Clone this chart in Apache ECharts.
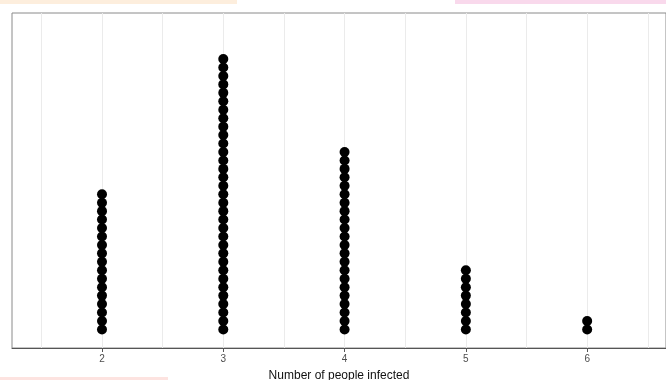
<!DOCTYPE html>
<html>
<head>
<meta charset="utf-8">
<script src="https://cdn.jsdelivr.net/npm/echarts@6/dist/echarts.min.js"></script>
<style>
html, body { margin: 0; padding: 0; background: #fff; }
#main { width: 666px; height: 380px; }
</style>
</head>
<body>
<div id="main"></div>
<script>
// data
var infectedValues = [2, 3, 4, 5, 6];
var dotCounts = [17, 33, 22, 8, 2];
var gridValues = [1.5, 2, 2.5, 3, 3.5, 4, 4.5, 5, 5.5, 6, 6.5];
var tickValues = [2, 3, 4, 5, 6];

// one point per dot, stacked upward
var dots = [];
for (var i = 0; i < infectedValues.length; i++) {
    for (var k = 1; k <= dotCounts[i]; k++) {
        dots.push([infectedValues[i], k]);
    }
}

var chart = echarts.init(document.getElementById('main'));
var option = {
    animation: false,
    grid: {
        left: 12, right: 0, top: 13, bottom: 32,
        outerBoundsMode: 'none',
        containLabel: false,
        show: true, borderColor: '#8a8a8a', borderWidth: 1,
        backgroundColor: '#fff'
    },
    graphic: [
        { type: 'rect', shape: { x: 0, y: 0, width: 237, height: 4 }, style: { fill: '#fdeedd' } },
        { type: 'rect', shape: { x: 455, y: 0, width: 211, height: 4 }, style: { fill: '#f9d9ec' } },
        { type: 'rect', shape: { x: 0, y: 377, width: 168, height: 3 }, style: { fill: '#fde3e0' } }
    ],
    xAxis: {
        type: 'value',
        min: 1.258,
        max: 6.65,
        name: 'Number of people infected',
        nameLocation: 'middle',
        nameGap: 22,
        nameTextStyle: { color: '#111', fontSize: 12, fontFamily: 'Liberation Sans' },
        axisLine: { show: true, onZero: false, lineStyle: { color: '#555', width: 1 } },
        axisTick: { show: true, customValues: tickValues, length: 4, lineStyle: { color: '#555' } },
        axisLabel: { customValues: tickValues, color: '#4d4d4d', fontSize: 10, margin: 6, fontFamily: 'Liberation Sans' },
        splitLine: { show: false }
    },
    yAxis: {
        type: 'value',
        min: -1.2,
        max: 38.45,
        show: false,
        splitLine: { show: false }
    },
    series: [
        {
            type: 'scatter',
            data: dots,
            symbol: 'circle',
            symbolSize: 10,
            itemStyle: { color: '#000', opacity: 1 },
            markLine: {
                silent: true,
                symbol: 'none',
                label: { show: false },
                lineStyle: { color: '#ebebeb', width: 1, type: 'solid' },
                data: gridValues.map(function (v) { return { xAxis: v }; }),
                z: 0
            },
            z: 3
        }
    ]
};
chart.setOption(option);
</script>
</body>
</html>
